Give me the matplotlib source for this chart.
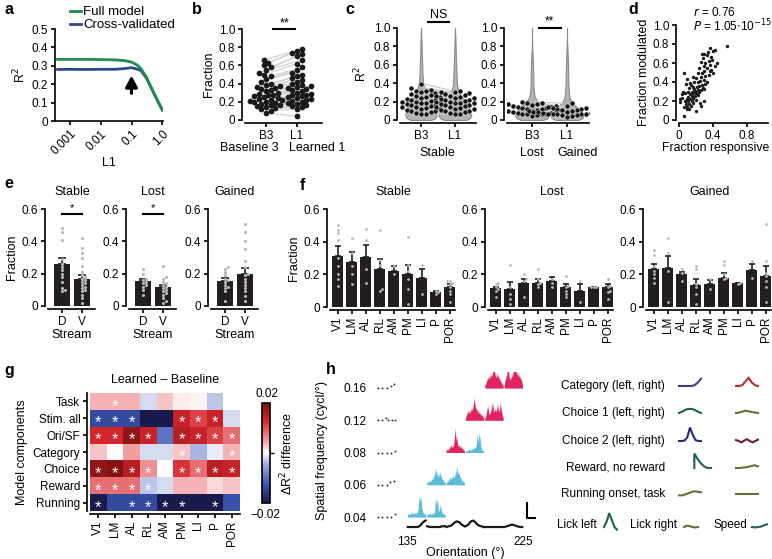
import numpy as np
import matplotlib
matplotlib.use('Agg')
import matplotlib.pyplot as plt
from matplotlib.colors import LinearSegmentedColormap

plt.rcParams['font.family'] = ['Liberation Sans', 'DejaVu Sans']
plt.rcParams['font.size'] = 9
plt.rcParams['axes.linewidth'] = 1.2
plt.rcParams['xtick.major.width'] = 1.2
plt.rcParams['ytick.major.width'] = 1.2
plt.rcParams['xtick.major.size'] = 3
plt.rcParams['ytick.major.size'] = 3
plt.rcParams['xtick.major.pad'] = 2
plt.rcParams['ytick.major.pad'] = 2
plt.rcParams['xtick.labelsize'] = 8.5
plt.rcParams['ytick.labelsize'] = 8.5
plt.rcParams['axes.labelsize'] = 9

# ---------------- data ----------------
# a: regularisation sweep
l1_reg = [0.0004, 0.001, 0.003, 0.01, 0.03, 0.06, 0.1, 0.15, 0.2, 0.3, 0.5, 0.7, 1.0]
r2_full = [0.335, 0.335, 0.335, 0.334, 0.332, 0.328, 0.320, 0.305, 0.285, 0.24, 0.16, 0.11, 0.06]
r2_cv = [0.280, 0.281, 0.280, 0.281, 0.281, 0.285, 0.290, 0.282, 0.275, 0.235, 0.16, 0.11, 0.06]

# b: paired fraction B3 -> L1
frac_b3 = [0.66, 0.63, 0.60, 0.58, 0.55, 0.52, 0.50, 0.48, 0.45, 0.42, 0.40, 0.38, 0.37, 0.36,
           0.35, 0.34, 0.33, 0.32, 0.30, 0.29, 0.28, 0.27, 0.26, 0.25, 0.24, 0.23, 0.22, 0.22,
           0.21, 0.20, 0.20, 0.19, 0.18, 0.17, 0.16, 0.15, 0.14, 0.13, 0.12, 0.10, 0.08]
frac_l1 = [0.78, 0.76, 0.74, 0.72, 0.70, 0.66, 0.62, 0.58, 0.55, 0.52, 0.50, 0.48, 0.46, 0.44,
           0.42, 0.40, 0.38, 0.37, 0.36, 0.35, 0.34, 0.33, 0.32, 0.30, 0.29, 0.28, 0.27, 0.26,
           0.25, 0.24, 0.23, 0.22, 0.21, 0.20, 0.19, 0.18, 0.16, 0.15, 0.14, 0.12, 0.04]

# c: R2 per neuron
stable_b3 = [0.39, 0.35, 0.33, 0.32, 0.31, 0.30, 0.29, 0.28, 0.27, 0.26, 0.25, 0.25, 0.24, 0.23,
             0.22, 0.22, 0.21, 0.20, 0.20, 0.19, 0.18, 0.18, 0.17, 0.16, 0.16, 0.15, 0.14, 0.14,
             0.13, 0.12, 0.12, 0.11, 0.10, 0.10, 0.09, 0.08, 0.07, 0.06]
stable_l1 = [0.32, 0.30, 0.30, 0.29, 0.28, 0.27, 0.26, 0.26, 0.25, 0.24, 0.24, 0.23, 0.22, 0.22,
             0.21, 0.20, 0.20, 0.19, 0.18, 0.18, 0.17, 0.16, 0.16, 0.15, 0.14, 0.14, 0.13, 0.12,
             0.12, 0.11, 0.10, 0.10, 0.09, 0.08, 0.07, 0.06]
lost_b3 = [0.20, 0.19, 0.18, 0.17, 0.17, 0.16, 0.15, 0.15, 0.14, 0.14, 0.13, 0.13, 0.12, 0.12,
           0.11, 0.11, 0.10, 0.10, 0.09, 0.09, 0.08, 0.08, 0.07, 0.07, 0.06, 0.06, 0.05, 0.04]
gained_l1 = [0.18, 0.15, 0.14, 0.13, 0.13, 0.12, 0.12, 0.11, 0.11, 0.10, 0.10, 0.10, 0.09, 0.09,
             0.09, 0.08, 0.08, 0.08, 0.07, 0.07, 0.07, 0.06, 0.06, 0.05, 0.05, 0.04, 0.03]
viol_levels = [0.0, 0.02, 0.05, 0.1, 0.15, 0.2, 0.25, 0.3, 0.35, 0.4, 0.5, 0.6, 0.7, 0.8, 0.9, 1.0]
viol_stable_b3 = [0.30, 0.42, 0.46, 0.44, 0.38, 0.30, 0.22, 0.15, 0.10, 0.06, 0.045, 0.035, 0.025, 0.018, 0.01, 0.0]
viol_stable_l1 = [0.32, 0.44, 0.48, 0.45, 0.38, 0.30, 0.20, 0.13, 0.08, 0.055, 0.045, 0.035, 0.025, 0.018, 0.01, 0.0]
viol_lost_b3 = [0.32, 0.44, 0.48, 0.42, 0.30, 0.16, 0.08, 0.055, 0.045, 0.04, 0.035, 0.028, 0.018, 0.005, 0.0, 0.0]
viol_gained_l1 = [0.32, 0.44, 0.48, 0.40, 0.25, 0.12, 0.07, 0.055, 0.045, 0.04, 0.035, 0.028, 0.02, 0.01, 0.0, 0.0]

# d: responsive vs modulated
resp = [0.57, 0.42, 0.40, 0.36, 0.34, 0.30, 0.27, 0.33, 0.38, 0.28, 0.35, 0.31, 0.37, 0.26, 0.29,
        0.33, 0.38, 0.36, 0.30, 0.24, 0.27, 0.22, 0.06, 0.35, 0.31, 0.26, 0.20, 0.16, 0.10, 0.29,
        0.25, 0.22, 0.18, 0.13, 0.08, 0.31, 0.27, 0.24, 0.21, 0.16, 0.12, 0.28, 0.30, 0.26, 0.22,
        0.19, 0.15, 0.11, 0.24, 0.20, 0.17, 0.13, 0.07, 0.03, 0.23, 0.19, 0.15, 0.11, 0.17, 0.13,
        0.09, 0.04, 0.01, 0.20, 0.15, 0.11, 0.07, 0.30, 0.01, 0.16, 0.12, 0.08, 0.14, 0.10, 0.06,
        0.12, 0.09, 0.20, 0.06, 0.26, 0.25, 0.45, 0.42, 0.40, 0.39, 0.33, 0.18, 0.14, 0.05]
modul = [0.78, 0.74, 0.73, 0.76, 0.72, 0.70, 0.69, 0.68, 0.66, 0.65, 0.62, 0.60, 0.58, 0.61, 0.57,
         0.55, 0.53, 0.52, 0.52, 0.55, 0.50, 0.49, 0.49, 0.47, 0.46, 0.45, 0.44, 0.45, 0.43, 0.42,
         0.41, 0.40, 0.40, 0.39, 0.38, 0.38, 0.37, 0.36, 0.35, 0.35, 0.34, 0.34, 0.33, 0.32, 0.32,
         0.31, 0.30, 0.30, 0.29, 0.28, 0.28, 0.27, 0.28, 0.27, 0.26, 0.25, 0.25, 0.24, 0.23, 0.22,
         0.22, 0.23, 0.22, 0.21, 0.20, 0.20, 0.20, 0.20, 0.19, 0.18, 0.17, 0.17, 0.15, 0.14, 0.14,
         0.12, 0.12, 0.09, 0.04, 0.15, 0.18, 0.60, 0.57, 0.50, 0.63, 0.40, 0.33, 0.37, 0.30]

# e: dorsal / ventral stream
streams = ['D', 'V']
e_titles = ['Stable', 'Lost', 'Gained']
e_means = [[0.26, 0.165], [0.155, 0.115], [0.155, 0.20]]
e_sem = [[0.035, 0.025], [0.015, 0.015], [0.02, 0.035]]
e_points = [
    [[0.48, 0.46, 0.41, 0.29, 0.26, 0.24, 0.22, 0.20, 0.18, 0.15, 0.11, 0.10, 0.09],
     [0.42, 0.36, 0.33, 0.30, 0.25, 0.21, 0.19, 0.18, 0.17, 0.16, 0.15, 0.14, 0.13, 0.12, 0.11,
      0.10, 0.09, 0.07, 0.05, 0.02]],
    [[0.23, 0.20, 0.17, 0.16, 0.15, 0.14, 0.13, 0.12, 0.10, 0.07],
     [0.25, 0.18, 0.17, 0.15, 0.14, 0.13, 0.12, 0.11, 0.10, 0.09, 0.08, 0.07, 0.05, 0.03, 0.02]],
    [[0.24, 0.23, 0.21, 0.19, 0.17, 0.16, 0.15, 0.13, 0.12, 0.11, 0.09, 0.03],
     [0.51, 0.46, 0.40, 0.35, 0.28, 0.24, 0.20, 0.19, 0.17, 0.15, 0.13, 0.11, 0.09, 0.06, 0.03]],
]
e_sig = ['*', '*', None]

# f: per visual area
areas = ['V1', 'LM', 'AL', 'RL', 'AM', 'PM', 'LI', 'P', 'POR']
f_means = [
    [0.315, 0.275, 0.305, 0.235, 0.22, 0.20, 0.175, 0.09, 0.12],
    [0.115, 0.11, 0.15, 0.15, 0.16, 0.12, 0.10, 0.12, 0.12],
    [0.235, 0.24, 0.20, 0.135, 0.14, 0.18, 0.145, 0.225, 0.19],
]
f_sem = [
    [0.06, 0.06, 0.075, 0.06, 0.03, 0.06, 0.06, 0.01, 0.02],
    [0.01, 0.045, 0.02, 0.02, 0.025, 0.02, 0.04, 0.005, 0.02],
    [0.03, 0.07, 0.015, 0.035, 0.025, 0.03, 0.005, 0.04, 0.06],
]
f_points = [
    [[0.50, 0.47, 0.45, 0.41, 0.30, 0.25, 0.20, 0.17, 0.13], [0.42, 0.33, 0.25, 0.20, 0.14],
     [0.48, 0.41, 0.23, 0.15], [0.47, 0.29, 0.26, 0.11, 0.10], [0.25, 0.20],
     [0.43, 0.26, 0.22, 0.17, 0.11, 0.02], [0.26, 0.08], [0.10, 0.09, 0.08],
     [0.16, 0.16, 0.15, 0.14, 0.12, 0.10, 0.08, 0.03]],
    [[0.15, 0.14, 0.12, 0.11, 0.10, 0.06], [0.26, 0.12, 0.08, 0.05, 0.02], [0.20, 0.17, 0.16, 0.06],
     [0.23, 0.17, 0.15, 0.14, 0.12], [0.17, 0.15, 0.12], [0.19, 0.13, 0.12, 0.10, 0.08, 0.06],
     [0.16, 0.03], [0.12, 0.12, 0.12], [0.17, 0.13, 0.12, 0.10, 0.09, 0.05]],
    [[0.35, 0.32, 0.25, 0.22, 0.20, 0.18, 0.15], [0.42, 0.33, 0.22, 0.03], [0.23, 0.21, 0.16],
     [0.25, 0.23, 0.14, 0.12, 0.08, 0.02], [0.17, 0.11], [0.28, 0.26, 0.20, 0.18, 0.17],
     [0.15, 0.14], [0.28, 0.18], [0.51, 0.28, 0.21, 0.19, 0.16, 0.12, 0.03]],
]

# g: learned - baseline difference
components = ['Task', 'Stim. all', 'Ori/SF', 'Category', 'Choice', 'Reward', 'Running']
g_vals = [
    [0.004, 0.004, 0.004, -0.002, 0.003, 0.001, 0.0005, -0.003, 0.0],
    [-0.014, -0.014, -0.014, -0.02, -0.02, 0.014, 0.011, 0.014, -0.002],
    [0.013, 0.013, 0.018, 0.014, -0.010, 0.015, 0.014, 0.011, 0.008],
    [0.003, 0.0, 0.005, -0.002, -0.002, 0.003, -0.004, -0.001, 0.004],
    [0.018, 0.019, 0.015, 0.006, 0.0, 0.012, 0.008, 0.015, 0.014],
    [0.008, 0.008, 0.008, -0.003, -0.002, 0.004, 0.004, 0.002, 0.003],
    [-0.02, -0.014, -0.014, -0.014, -0.02, -0.02, -0.02, -0.02, -0.013],
]
g_sig = [
    [0, 1, 0, 0, 0, 0, 0, 0, 0],
    [1, 1, 1, 0, 0, 1, 1, 1, 0],
    [1, 1, 1, 1, 0, 1, 1, 1, 1],
    [0, 0, 0, 0, 0, 1, 0, 0, 1],
    [1, 1, 1, 1, 0, 1, 1, 1, 1],
    [1, 1, 1, 1, 0, 0, 0, 0, 0],
    [1, 0, 1, 1, 1, 1, 0, 1, 0],
]

# h: example neuron
sf_labels = ['0.04', '0.06', '0.08', '0.12', '0.16']
ori_start, ori_step = 135, 15
trace_colors = [['#5cbcd8', '#5cbcd8'], ['#5cbcd8', '#5cbcd8'], ['#e0245e', '#5cbcd8'],
                ['#e0245e', '#e0245e'], ['#e0245e', '#e0245e']]
traces = [
    [[0.08, 0.14, 0.10, 0.13, 0.18, 0.12, 0.15, 0.12, 0.16, 0.14, 0.20, 0.30, 0.85, 0.70, 0.78, 0.30, 0.18, 0.12, 0.14, 0.08],
     [0.08, 0.12, 0.10, 0.14, 0.10, 0.12, 0.16, 0.12, 0.20, 0.75, 0.55, 0.70, 0.22, 0.30, 0.50, 0.25, 0.15, 0.12, 0.10, 0.08]],
    [[0.08, 0.12, 0.10, 0.14, 0.15, 0.20, 0.25, 0.30, 0.45, 0.62, 0.50, 0.40, 0.35, 0.42, 0.48, 0.30, 0.22, 0.15, 0.12, 0.08],
     [0.08, 0.12, 0.15, 0.22, 0.28, 0.22, 0.30, 0.35, 0.30, 0.38, 0.48, 0.72, 0.45, 0.50, 0.35, 0.28, 0.20, 0.15, 0.12, 0.08]],
    [[0.08, 0.12, 0.10, 0.15, 0.22, 0.28, 0.20, 0.25, 0.35, 0.95, 0.60, 0.55, 0.30, 0.28, 0.22, 0.25, 0.18, 0.14, 0.10, 0.08],
     [0.05, 0.06, 0.08, 0.10, 0.09, 0.12, 0.11, 0.14, 0.15, 0.16, 0.20, 0.25, 0.75, 0.40, 0.78, 0.60, 0.20, 0.10, 0.07, 0.05]],
    [[0.10, 0.20, 0.32, 0.38, 0.30, 0.35, 0.45, 0.42, 0.60, 0.90, 0.55, 0.48, 0.40, 0.35, 0.30, 0.28, 0.22, 0.18, 0.14, 0.10],
     [0.10, 0.15, 0.40, 0.60, 0.25, 0.28, 0.30, 0.55, 0.70, 0.35, 0.40, 0.45, 0.35, 0.65, 0.40, 0.35, 0.70, 0.40, 0.20, 0.10]],
    [[0.10, 0.15, 0.32, 0.38, 0.45, 0.40, 0.55, 0.48, 0.60, 1.10, 0.65, 0.50, 0.45, 0.55, 0.45, 0.38, 0.30, 0.22, 0.15, 0.10],
     [0.10, 0.35, 0.45, 0.60, 1.05, 0.45, 0.35, 0.40, 0.50, 0.55, 0.75, 1.15, 0.70, 0.60, 0.55, 0.50, 0.45, 0.40, 0.30, 0.10]],
]
speed_trace = [
    [0, 0, 0, 0, 0, 0.1, 0.3, 0.4],
    [0.05, 0, 0, 0, 0, 0, 0.05, 0.05],
    [0, 0.05, 0.1, 0.25, 0.35, 0.3, 0.15, 0.05],
    [0.05, 0.15, 0.35, 0.4, 0.25, 0.1, 0.05, 0],
    [0, 0, 0, 0, 0, 0, 0, 0],
    [0, 0.05, 0.1, 0.15, 0.1, 0.05, 0, 0],
]
lick_times = [[0.0, 0.25, 0.5, 0.75, 1.0], [0.0, 0.25, 0.5, 0.72, 0.95],
              [0.0, 0.25, 0.5, 0.75, 1.0], [0.0, 0.22, 0.45, 0.6, 0.8, 1.0],
              [0.0, 0.25, 0.5, 0.75, 0.95]]
lick_heights = [[0, 0, 0, 0, 0.08], [0, 0, 0, 0.08, 0.12], [0, 0, 0, 0, 0.05],
                [0, 0, 0.08, 0, 0, 0], [0, 0, 0, 0.05, 0.12]]

# h: kernels (label, left kernel, right kernel)
kernel_names = ['Category (left, right)', 'Choice 1 (left, right)', 'Choice 2 (left, right)',
                'Reward, no reward', 'Running onset, task']
kernels_left = [[0, 0, 0, 0, 0, 0.1, 0.4, 0.8],
                [0, 0.15, 0.35, 0.45, 0.45, 0.35, 0.15, 0.0],
                [0, 0, 0.05, 0.4, 1.5, 0.7, 0.1, 0, 0],
                [None, 1.6, 1.0, 0.5, 0.15, 0.0, 0.0],
                [-0.15, -0.15, 0, 0.15, 0.3, 0.25, 0.2]]
kernels_right = [[0, 0, 0.1, 0.5, 0.9, 0.4, 0.1, 0],
                 [0, 0.05, 0.15, 0.25, 0.2, 0.1, 0.05, 0],
                 [0.1, 0, -0.15, 0.05, 0.2, 0, -0.15, 0, 0.15],
                 [0, 0, 0.05, 0.1, 0.2, 0.3, 0.2],
                 [0, 0, 0, 0, 0, 0]]
kcol_left = ['#3d3a94', '#1f5f4f', '#2a2a7a', '#1f5f55', '#6b6b3b']
kcol_right = ['#b03030', '#6b6b3b', '#6b1f2f', '#6b6b3b', '#6b6b3b']
lick_left_k = [0, 0.6, 1.5, 0.8, 0.0, -0.3]
lick_right_k = [0, 0.15, 0.1, 0.0, -0.05, 0]
speed_k = [0, -0.05, 0, 0.05, 0.2, 0.3]

# ---------------- layout helpers ----------------
W, H = 772, 559
fig = plt.figure(figsize=(W / 100, H / 100), dpi=100)


def px_axes(l, t, r, b):
    return fig.add_axes([l / W, 1 - b / H, (r - l) / W, (b - t) / H])


def ftext(x, y, s, **kw):
    kw.setdefault('ha', 'center')
    kw.setdefault('va', 'center')
    return fig.text(x / W, 1 - y / H, s, **kw)


def clean(ax, offset=2):
    for s in ['top', 'right']:
        ax.spines[s].set_visible(False)
    for s in ['left', 'bottom']:
        ax.spines[s].set_position(('outward', offset))


def swarm(vals, d, sx, sy):
    # simple beeswarm, d = dot diameter in px, sx/sy = px per data unit
    vals = np.asarray(vals, float)
    xs = np.zeros(len(vals))
    done = []
    for i in np.argsort(vals):
        y = vals[i] * sy
        for k in range(80):
            x = ((k + 1) // 2) * (d * 0.5) * (1 if k % 2 else -1)
            if all((x - px) ** 2 + (y - py) ** 2 >= d * d for px, py in done):
                break
        done.append((x, y))
        xs[i] = x / sx
    return xs


# panel letters
for lab, x, y in [('a', 9, 9), ('b', 197, 9), ('c', 350, 9), ('d', 633, 9),
                  ('e', 9, 183), ('f', 302, 185), ('g', 9, 371), ('h', 331, 369)]:
    ftext(x, y, lab, fontsize=11.5, fontweight='bold')

# ---------------- a ----------------
ax = px_axes(55, 29, 163, 121)
clean(ax, 0)
ax.plot(l1_reg, r2_cv, color='#2b4a8c', lw=2, label='Cross-validated')
ax.plot(l1_reg, r2_full, color='#1e8c4e', lw=2, label='Full model')
ax.set_xscale('log')
ax.set_xlim(3.3e-4, 1.05)
ax.set_ylim(0, 0.5)
ax.set_xticks([0.001, 0.01, 0.1, 1.0])
ax.set_xticklabels(['0.001', '0.01', '0.1', '1.0'], rotation=45, ha='right', rotation_mode='anchor')
ax.minorticks_off()
ax.set_yticks([0, 0.1, 0.2, 0.3, 0.4, 0.5])
ax.set_yticklabels(['0', '0.1', '0.2', '0.3', '0.4', '0.5'])
ax.set_xlabel('L1', labelpad=0)
ax.set_ylabel('R$^2$', labelpad=2)
ax.annotate('', xy=(0.1, 0.262), xytext=(0.1, 0.135),
            arrowprops=dict(arrowstyle='-|>,head_width=0.4,head_length=0.75', color='k', lw=2.2))
h_, l_ = ax.get_legend_handles_labels()
ax.legend(h_[::-1], l_[::-1], loc='upper left', bbox_to_anchor=(70 / W, 1 - 6 / H),
          bbox_transform=fig.transFigure, frameon=False, handlelength=0.8, handletextpad=0.2,
          labelspacing=0.05, borderaxespad=0, borderpad=0, fontsize=9.5)

# ---------------- b ----------------
ax = px_axes(245, 29, 322, 120)
clean(ax)
ob = swarm(frac_b3, 4.7, 31, 91)
ol = swarm(frac_l1, 4.7, 31, 91)
for i in range(len(frac_b3)):
    ax.plot([0 + ob[i], 1 + ol[i]], [frac_b3[i], frac_l1[i]], color='#cfcfcf', lw=0.8, zorder=1)
ax.scatter(0 + ob, frac_b3, s=17, color='#1a1a1a', zorder=3, lw=0)
ax.scatter(1 + ol, frac_l1, s=17, color='#1a1a1a', zorder=3, lw=0)
ax.set_xlim(-0.68, 1.81)
ax.set_ylim(0, 1.0)
ax.set_yticks([0, 0.2, 0.4, 0.6, 0.8, 1.0])
ax.set_yticklabels(['0', '0.2', '0.4', '0.6', '0.8', '1.0'])
ax.set_xticks([0, 1])
ax.set_xticklabels(['B3', 'L1'])
ax.set_ylabel('Fraction', labelpad=3)
ax.plot([0.23, 0.94], [1.0, 1.0], color='k', lw=1.5, clip_on=False)
ax.text(0.585, 1.0, '**', ha='center', va='bottom', fontsize=9)
ftext(249, 148, 'Baseline 3')
ftext(317, 148, 'Learned 1')

# ---------------- c ----------------
c_sets = [
    (400, 476, 421, 34, stable_b3, stable_l1, viol_stable_b3, viol_stable_l1, 'NS', 1.07),
    (507, 589, 532, 35, lost_b3, gained_l1, viol_lost_b3, viol_gained_l1, '**', 1.0),
]
for k, (l, r, x0, sp, va_, vb_, wa, wb, sig, sy) in enumerate(c_sets):
    ax = px_axes(l, 28, r, 120)
    clean(ax)
    for xc, w in [(0, wa), (1, wb)]:
        w = np.asarray(w)
        ax.fill_betweenx(viol_levels, xc - w, xc + w, color='#b4b4b4', ec='#8a8a8a', lw=0.8, zorder=1)
    oa = swarm(va_, 4.8, sp, 92)
    obb = swarm(vb_, 4.8, sp, 92)
    sa, sb = np.sort(va_), np.sort(vb_)
    n = min(len(sa), len(sb))
    for i in range(n):
        ax.plot([0.1, 0.9], [sa[-1 - i], sb[-1 - i]], color='#c8c8c8', lw=0.8, zorder=1.5)
    ax.scatter(0 + oa, va_, s=13, color='#111111', ec='white', lw=0.3, zorder=3)
    ax.scatter(1 + obb, vb_, s=13, color='#111111', ec='white', lw=0.3, zorder=3)
    ax.set_xlim((l - x0) / sp, (r - x0) / sp)
    ax.set_ylim(0, 1.0)
    ax.set_yticks([0, 0.2, 0.4, 0.6, 0.8, 1.0])
    ax.set_yticklabels(['0', '0.2', '0.4', '0.6', '0.8', '1.0'])
    ax.set_xticks([0, 1])
    ax.set_xticklabels(['B3', 'L1'])
    ax.plot([0.2, 0.82], [sy, sy], color='k', lw=1.5, clip_on=False)
    ax.text(0.51, sy + 0.01, sig, ha='center', va='bottom', fontsize=9 if sig == 'NS' else 8.5)
    if k == 0:
        ax.set_ylabel('R$^2$', labelpad=3)
ftext(437, 153, 'Stable')
ftext(532, 153, 'Lost')
ftext(578, 153, 'Gained')

# ---------------- d ----------------
ax = px_axes(679, 25, 768, 120)
clean(ax)
ax.scatter(resp, modul, s=6, color='#1a1a1a', lw=0)
ax.set_xlim(0, 1.05)
ax.set_ylim(0, 1.0)
ax.set_xticks([0, 0.4, 0.8])
ax.set_xticklabels(['0', '0.4', '0.8'])
ax.set_yticks([0, 0.2, 0.4, 0.6, 0.8, 1.0])
ax.set_yticklabels(['0', '0.2', '0.4', '0.6', '0.8', '1.0'])
ax.set_ylabel('Fraction modulated', labelpad=2)
ftext(716, 148, 'Fraction responsive', fontsize=8.8)
ftext(693, 12, r'$\it{r}$ = 0.76', ha='left', fontsize=8.5)
ftext(693, 26, r'$\it{P}$ = 1.05$\cdot$10$^{-15}$', ha='left', fontsize=8.5)

# ---------------- e ----------------
for k, spine_x in enumerate([45, 126, 208]):
    ax = px_axes(spine_x + 3, 209, spine_x + 50, 306)
    clean(ax)
    dx = spine_x + 17
    ax.bar([0, 1], e_means[k], width=0.8, color='#231f20', zorder=1)
    ax.errorbar([0, 1], e_means[k], yerr=[[0, 0], e_sem[k]], fmt='none', ecolor='#231f20',
                capsize=3, elinewidth=1.2, capthick=1.2, zorder=0.5)
    for j in range(2):
        off = swarm(e_points[k][j], 3.2, 20, 162)
        ax.scatter(j + off, e_points[k][j], s=5, color='#b8b8b8', lw=0, zorder=3)
    ax.set_xlim((spine_x + 3 - dx) / 20, (spine_x + 50 - dx) / 20)
    ax.set_ylim(0, 0.6)
    ax.set_yticks([0, 0.2, 0.4, 0.6])
    ax.set_yticklabels(['0', '0.2', '0.4', '0.6'])
    ax.set_xticks([0, 1])
    ax.set_xticklabels(streams)
    ax.set_xlabel('Stream', labelpad=1)
    if k == 0:
        ax.set_ylabel('Fraction', labelpad=3)
    if e_sig[k]:
        ax.plot([0, 1], [0.57, 0.57], color='k', lw=1.5)
        ax.text(0.5, 0.575, e_sig[k], ha='center', va='bottom', fontsize=8)
    ftext(dx + 10, 192, e_titles[k])

# ---------------- f ----------------
for k, spine_x in enumerate([327, 485, 643]):
    ax = px_axes(spine_x + 3, 209, spine_x + 128, 307)
    clean(ax)
    x = np.arange(len(areas))
    ax.bar(x, f_means[k], width=0.85, color='#231f20', zorder=1)
    ax.errorbar(x, f_means[k], yerr=[np.zeros(len(areas)), f_sem[k]], fmt='none', ecolor='#231f20',
                capsize=2.5, elinewidth=1.2, capthick=1.2, zorder=0.5)
    for j in range(len(areas)):
        off = swarm(f_points[k][j], 2.8, 14, 163)
        ax.scatter(j + off, f_points[k][j], s=4, color='#b8b8b8', lw=0, zorder=3)
    v1x = spine_x + 10.5
    ax.set_xlim((spine_x + 3 - v1x) / 14, (spine_x + 128 - v1x) / 14)
    ax.set_ylim(0, 0.6)
    ax.set_yticks([0, 0.2, 0.4, 0.6])
    ax.set_yticklabels(['0', '0.2', '0.4', '0.6'])
    ax.set_xticks(x)
    ax.set_xticklabels(areas, rotation=90)
    if k == 0:
        ax.set_ylabel('Fraction', labelpad=3)
    ftext(v1x + 56, 192, e_titles[k])

# ---------------- g ----------------
cmap = LinearSegmentedColormap.from_list(
    'dr2', [(0, '#1b1a4d'), (0.18, '#3a55b0'), (0.38, '#9aa6dc'), (0.5, '#ffffff'),
            (0.62, '#f3a3a6'), (0.82, '#d8262e'), (1, '#7a1010')])
ax = px_axes(90, 393, 240, 511)
clean(ax)
im = ax.imshow(np.array(g_vals), cmap=cmap, vmin=-0.02, vmax=0.02, aspect='auto')
for i in range(len(components)):
    for j in range(len(areas)):
        if g_sig[i][j]:
            ax.text(j, i + 0.28, '*', color='white', ha='center', va='center', fontsize=12)
ax.set_yticks(range(len(components)))
ax.set_yticklabels(components)
ax.set_xticks(range(len(areas)))
ax.set_xticklabels(areas, rotation=90)
ax.set_ylabel('Model components', labelpad=3)
ftext(165, 380, 'Learned \u2013 Baseline')
cax = px_axes(262, 403, 270, 503)
cb = fig.colorbar(im, cax=cax)
cb.set_ticks([0])
cb.set_ticklabels([''])
cb.outline.set_linewidth(1.2)
cax.tick_params(length=3, width=1)
ftext(267, 394, '0.02', fontsize=8.5)
ftext(265, 515, '\u22120.02', fontsize=8.5)
ftext(287, 453, '\u0394R$^2$ difference', rotation=90)

# ---------------- h (tuning) ----------------
px_per_deg = 116 / 90.0
px_per_row = 32.25
ax = px_axes(375, 372, 545, 535)
ax.set_xlim(135 - 32 / px_per_deg, 225 + 22 / px_per_deg)
ax.set_ylim(-18 / px_per_row, 145 / px_per_row)
for s in ax.spines.values():
    s.set_visible(False)
ax.set_xticks([])
ax.set_yticks(range(len(sf_labels)))
ax.set_yticklabels(sf_labels)
ax.tick_params(axis='y', length=0, pad=6)
amp = 0.72
for r in range(len(traces)):
    for b in range(2):
        tr = np.asarray(traces[r][b])
        b0 = ori_start + ori_step * (r + b)
        xs = np.linspace(b0 + 0.4, b0 + ori_step - 0.4, len(tr))
        col = trace_colors[r][b]
        ax.fill_between(xs, r, r + amp * tr * 1.12 + 0.03, color=col, alpha=0.35, lw=0)
        ax.fill_between(xs, r, r + amp * tr, color=col, lw=0)
    lt = np.asarray(lick_times[r])
    ax.scatter(112.5 + lt * 13.2, r + np.asarray(lick_heights[r]), s=2, color='#333333', lw=0)
sp_base = -10 / px_per_row
for b, seg in enumerate(speed_trace):
    b0 = ori_start + ori_step * b
    xs = np.linspace(b0 + 0.6, b0 + ori_step - 0.6, len(seg))
    ax.plot(xs, sp_base + 0.5 * np.asarray(seg), color='#1a1a1a', lw=1.6)
ax.text(135, -25 / px_per_row, '135', ha='center', va='center', fontsize=8.5)
ax.text(225, -25 / px_per_row, '225', ha='center', va='center', fontsize=8.5)
ax.text(180, -36 / px_per_row, 'Orientation (\u00b0)', ha='center', va='center', fontsize=9)
# scale bar
sbx = 225 + 4 / px_per_deg
ax.plot([sbx, sbx, sbx + 8 / px_per_deg], [14 / px_per_row, -1 / px_per_row, -1 / px_per_row],
        color='k', lw=1.5)
ftext(322, 450, 'Spatial frequency (cycl/\u00b0)', rotation=90)

# ---------------- h (kernels) ----------------
ax = px_axes(540, 372, 772, 545)
ax.set_xlim(540, 772)
ax.set_ylim(545, 372)
ax.axis('off')
row_y = [386, 413, 441, 468, 494]
left_x, right_x, kw_ = 679, 736, 22
k_scale = 9
for i, name in enumerate(kernel_names):
    ax.text(665, row_y[i], name, ha='right', va='center', fontsize=8.5)
    for kern, x0, col in [(kernels_left[i], left_x, kcol_left[i]), (kernels_right[i], right_x, kcol_right[i])]:
        kv = np.array([np.nan if v is None else v for v in kern], float)
        xs = np.linspace(x0, x0 + kw_, len(kv))
        if np.isnan(kv[0]):
            # reward kernel starts with a vertical rise
            xs = np.linspace(x0 + 12, x0 + 32, len(kv))
            kv[0] = 0
            xs[0] = xs[1]
        ax.plot(xs, row_y[i] - k_scale * kv, color=col, lw=1.5, solid_joinstyle='miter')
ax.text(557, 525, 'Lick left', ha='left', va='center', fontsize=8.5)
ax.text(630, 525, 'Lick right', ha='left', va='center', fontsize=8.5)
ax.text(713, 525, 'Speed', ha='left', va='center', fontsize=8.5)
for kern, x0, w, col in [(lick_left_k, 604, 13, '#1f5f55'), (lick_right_k, 684, 14, '#6b6b3b'),
                         (speed_k, 752, 15, '#1f5f60')]:
    kv = np.asarray(kern, float)
    ax.plot(np.linspace(x0, x0 + w, len(kv)), 527 - k_scale * kv, color=col, lw=1.5)

fig.savefig('out.png', dpi=100)
